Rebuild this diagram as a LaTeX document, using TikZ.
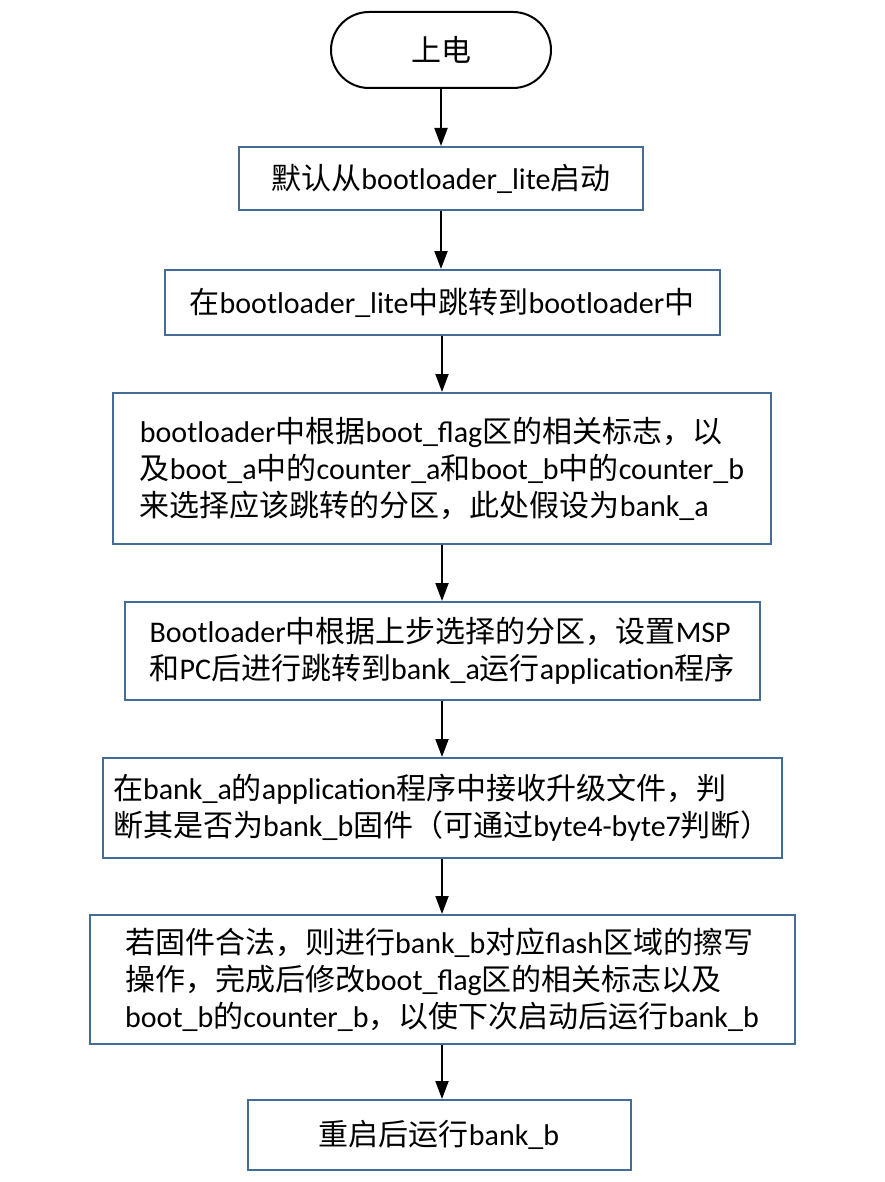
\documentclass[tikz,border=0pt]{standalone}
\usepackage{fontspec}
\setmainfont{Carlito}
\newfontfamily\cjk{Noto Sans CJK SC}
\usetikzlibrary{arrows.meta}
\definecolor{boxblue}{RGB}{68,108,150}
\newcommand{\zh}[1]{{\cjk #1}}
\tikzset{
	stepbox/.style={draw=boxblue,line width=2pt,inner xsep=10pt,inner ysep=0pt,align=left,
		font=\fontsize{30}{37}\selectfont},
	termbox/.style={draw=black,line width=2pt,rounded corners=38pt,
		font=\fontsize{30}{37}\selectfont},
	arr/.style={line width=2pt,-{Triangle[length=18pt,width=13pt]}}
}
\begin{document}
\begin{tikzpicture}[x=1pt,y=-1pt]
	\useasboundingbox (0,0) rectangle (884,1182);
	%start
	\node[termbox,minimum width=220pt,minimum height=76pt] (start) at (441,50) {\zh{上电}};
	%steps
	\node[stepbox,minimum width=404pt,minimum height=63pt] (lite) at (441,178.5)
		{\zh{默认从}bootloader\_lite\zh{启动}};
	\node[stepbox,minimum width=555pt,minimum height=65pt] (jump) at (442,302.5)
		{\zh{在}bootloader\_lite\zh{中跳转到}bootloader\zh{中}};
	\node[stepbox,minimum width=658pt,minimum height=151pt] (select) at (442,468.5)
		{bootloader\zh{中根据}boot\_flag\zh{区的相关标志，以}\\
		 \zh{及}boot\_a\zh{中的}counter\_a\zh{和}boot\_b\zh{中的}counter\_b\\
		 \zh{来选择应该跳转的分区，此处假设为}bank\_a};
	\node[stepbox,minimum width=635pt,minimum height=98pt] (run) at (442,651)
		{Bootloader\zh{中根据上步选择的分区，设置}MSP\\
		 \zh{和}PC\zh{后进行跳转到}bank\_a\zh{运行}application\zh{程序}};
	\node[stepbox,minimum width=679pt,minimum height=100pt] (recv) at (442,808)
		{\zh{在}bank\_a\zh{的}application\zh{程序中接收升级文件，判}\\
		 \zh{断其是否为}bank\_b\zh{固件（可通过}byte4-byte7\zh{判断）}};
	\node[stepbox,minimum width=705pt,minimum height=129pt] (write) at (442,979.5)
		{\zh{若固件合法，则进行}bank\_b\zh{对应}flash\zh{区域的擦写}\\
		 \zh{操作，完成后修改}boot\_flag\zh{区的相关标志以及}\\
		 boot\_b\zh{的}counter\_b\zh{，以使下次启动后运行}bank\_b};
	\node[stepbox,minimum width=383pt,minimum height=70pt] (reboot) at (439,1135)
		{\zh{重启后运行}bank\_b};
	%arrows
	\foreach \a/\b in {start/lite,lite/jump,jump/select,select/run,run/recv,recv/write,write/reboot}
		\draw[arr] (\a.south) -- (\a.south |- \b.north);
\end{tikzpicture}
\end{document}
